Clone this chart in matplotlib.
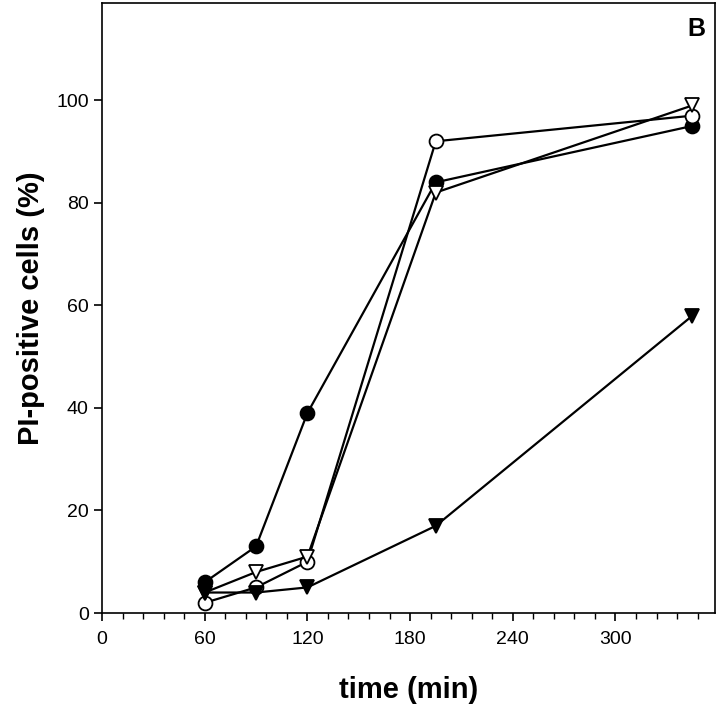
import matplotlib
matplotlib.use("Agg")
import matplotlib.pyplot as plt
from matplotlib.ticker import MultipleLocator

plt.rcParams['font.family'] = ['Liberation Sans', 'DejaVu Sans']

# time points (min)
t = [60, 90, 120, 195, 345]

# PI-positive cells (%)
filled_circle = [6, 13, 39, 84, 95]
open_circle = [2, 5, 10, 92, 97]
open_triangle = [4, 8, 11, 82, 99]
filled_triangle = [4, 4, 5, 17, 58]

fig = plt.figure(figsize=(7.2, 7.12), dpi=100)
ax = fig.add_axes([0.1417, 0.139, 0.851, 0.857])

kw = dict(color='black', lw=1.6, markersize=10, markeredgewidth=1.3)
ax.plot(t, filled_circle, marker='o', markerfacecolor='black', markeredgecolor='black', **kw)
ax.plot(t, open_circle, marker='o', markerfacecolor='white', markeredgecolor='black', **kw)
ax.plot(t, open_triangle, marker='v', markerfacecolor='white', markeredgecolor='black', **kw)
ax.plot(t, filled_triangle, marker='v', markerfacecolor='black', markeredgecolor='black', **kw)

ax.set_xlim(0, 358)
ax.set_ylim(0, 119)
ax.set_xticks([0, 60, 120, 180, 240, 300])
ax.xaxis.set_minor_locator(MultipleLocator(12))
ax.set_yticks([0, 20, 40, 60, 80, 100])

ax.tick_params(axis='both', which='major', direction='out', length=6, width=1.2, labelsize=14)
ax.tick_params(axis='x', which='major', pad=7)
ax.tick_params(axis='x', which='minor', direction='out', length=4, width=1.0)
for s in ax.spines.values():
    s.set_linewidth(1.2)

ax.set_xlabel('time (min)', fontsize=21, fontweight='bold', labelpad=20)
ax.set_ylabel('PI-positive cells (%)', fontsize=21, fontweight='bold', labelpad=8)
ax.text(0.984, 0.957, 'B', transform=ax.transAxes, fontsize=18, fontweight='bold',
        ha='right', va='center')

fig.savefig('out.png', dpi=100)
